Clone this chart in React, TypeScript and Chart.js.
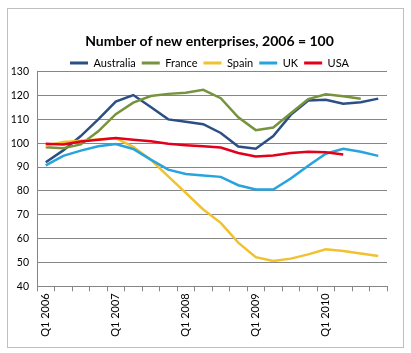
import { useEffect, useRef } from "react";
import { Chart, registerables } from "chart.js";

Chart.register(...registerables);

const quarters = [
  "Q1 2006", "Q2 2006", "Q3 2006", "Q4 2006",
  "Q1 2007", "Q2 2007", "Q3 2007", "Q4 2007",
  "Q1 2008", "Q2 2008", "Q3 2008", "Q4 2008",
  "Q1 2009", "Q2 2009", "Q3 2009", "Q4 2009",
  "Q1 2010", "Q2 2010", "Q3 2010", "Q4 2010",
];

const australia = [92, 97, 103, 110, 117.5, 120.2, 115.2, 110, 109, 108, 104.3, 98.6, 97.7, 103, 111.9, 117.9, 118.2, 116.6, 117.2, 118.7];
const france = [98.3, 97.9, 99.5, 105, 112.2, 117, 119.8, 120.7, 121.2, 122.4, 118.9, 110.9, 105.5, 106.6, 112.6, 118.5, 120.5, 119.7, 118.7, null];
const spain = [99, 100.5, 101, 101.6, 102.1, 98.5, 93.1, 86.1, 79.2, 72.2, 66.6, 58.3, 52.2, 50.6, 51.6, 53.4, 55.5, 54.8, 53.8, 52.7];
const uk = [90.7, 94.7, 96.9, 98.7, 99.7, 97.6, 93.1, 88.9, 87.1, 86.5, 85.9, 82.4, 80.6, 80.6, 85.2, 90.6, 95.6, 97.7, 96.4, 94.7];
const usa = [99.8, 99.5, 100.7, 101.5, 102.2, 101.5, 100.8, 99.8, 99.2, 98.7, 98.2, 95.9, 94.4, 94.9, 95.9, 96.4, 96.2, 95.3, null, null];

const yMin = 40;
const yMax = 130;
const yStep = 10;

const seriesNames = ["Australia", "France", "Spain", "UK", "USA"];
const seriesColors = ["#2B4F85", "#77933C", "#F2C12E", "#27A3DD", "#E2001A"];
const seriesData = [australia, france, spain, uk, usa];

const FONT = "Lato, 'DejaVu Sans', sans-serif";
const GRID = "#868686";

export default function App() {
  const ref = useRef<HTMLCanvasElement | null>(null);

  useEffect(() => {
    if (!ref.current) return;
    const frame = {
      id: "frame",
      beforeDraw(c: any) {
        const ctx = c.ctx;
        ctx.save();
        ctx.fillStyle = "#ffffff";
        ctx.fillRect(0, 0, c.width, c.height);
        ctx.strokeStyle = "#BFBFBF";
        ctx.lineWidth = 1;
        ctx.strokeRect(7.5, 8.5, 396, 339);
        ctx.restore();
      },
    };

    const chart = new Chart(ref.current, {
      type: "line",
      data: {
        labels: quarters,
        datasets: seriesNames.map((name, i) => ({
          label: name,
          data: seriesData[i],
          borderColor: seriesColors[i],
          backgroundColor: seriesColors[i],
          borderWidth: 2.5,
          pointRadius: 0,
          pointHoverRadius: 0,
          tension: 0,
          fill: false,
          order: seriesNames.length - 1 - i,
          yAxisID: "y",
        })),
      },
      options: {
        responsive: false,
        animation: false,
        events: [],
        layout: { padding: { left: 11, right: 3, top: 0, bottom: 6.7 } },
        plugins: {
          tooltip: { enabled: false },
          title: {
            display: true,
            text: "Number of new enterprises, 2006 = 100",
            color: "#000",
            font: { family: FONT, size: 14, weight: "bold" },
            padding: { top: 33.3, bottom: 1.4 },
          },
          legend: {
            display: true,
            position: "top",
            maxHeight: 20.2,
            labels: {
              color: "#000",
              font: { family: FONT, size: 11 },
              boxWidth: 18,
              boxHeight: 3,
              padding: 6,
              generateLabels: (c: any) =>
                Chart.defaults.plugins.legend.labels
                  .generateLabels(c)
                  .map((l: any) => ({ ...l, lineWidth: 0, fillStyle: l.strokeStyle }))
                  .sort((a: any, b: any) => a.datasetIndex - b.datasetIndex),
            },
          },
        },
        scales: {
          x: {
            type: "category",
            offset: true,
            afterFit: (s: any) => {
              s.height = 60;
            },
            grid: {
              offset: true,
              drawOnChartArea: false,
              drawTicks: true,
              tickLength: 5,
              color: GRID,
            },
            border: { display: true, color: GRID, width: 1 },
            ticks: {
              autoSkip: false,
              minRotation: 90,
              maxRotation: 90,
              padding: 2,
              color: "#000",
              font: { family: FONT, size: 11 },
              callback: (_v: any, i: number) => (i % 4 === 0 ? quarters[i] : ""),
            },
          },
          y: {
            position: "left",
            min: yMin,
            max: yMax,
            afterFit: (s: any) => {
              s.width = 26;
            },
            grid: { color: GRID, drawTicks: false, lineWidth: 1 },
            border: { display: true, color: GRID, width: 1 },
            ticks: {
              stepSize: yStep,
              padding: 8,
              color: "#000",
              font: { family: FONT, size: 10.5 },
            },
          },
          spacer: {
            position: "right",
            min: yMin,
            max: yMax,
            afterFit: (s: any) => {
              s.width = 21;
            },
            grid: { display: false, drawOnChartArea: false, drawTicks: false },
            border: { display: false },
            ticks: { display: false },
          },
        },
      },
      plugins: [frame],
    } as any);

    return () => chart.destroy();
  }, []);

  return (
    <div style={{ position: "absolute", left: 0, top: 0, width: 411, height: 353 }}>
      <canvas ref={ref} width={411} height={353} style={{ display: "block" }} />
    </div>
  );
}
